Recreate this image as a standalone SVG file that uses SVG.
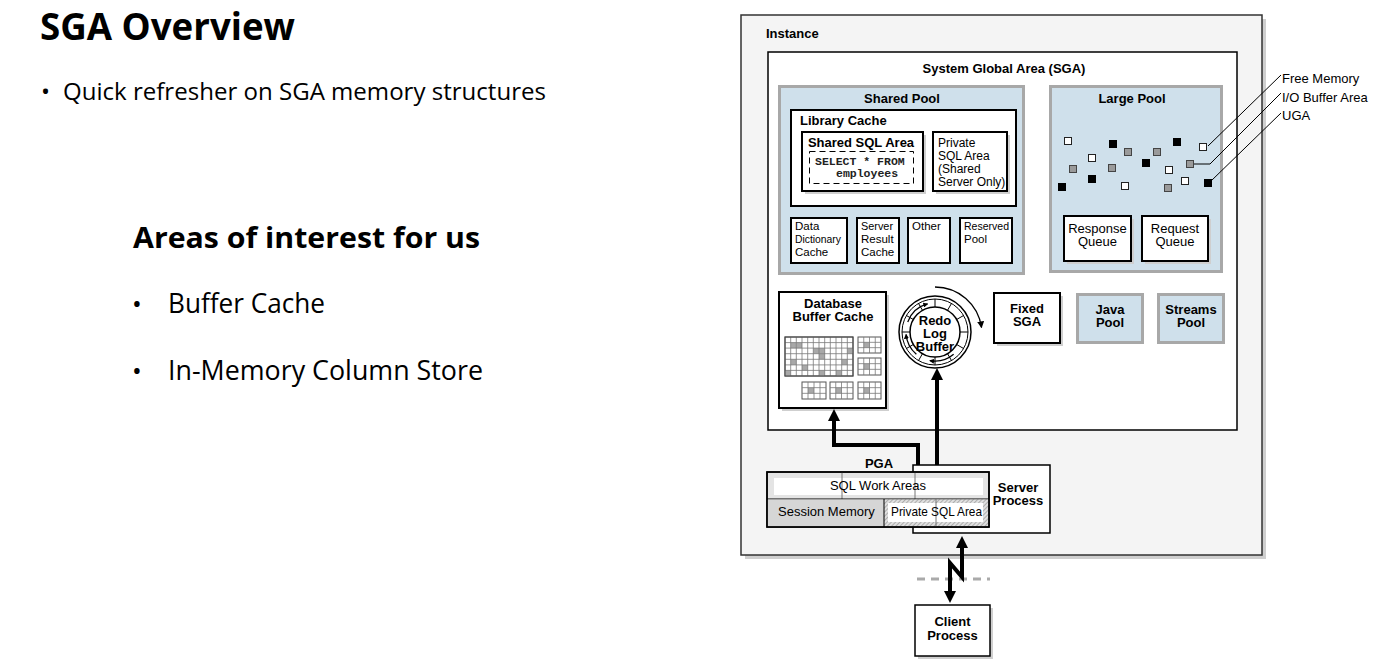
<svg xmlns="http://www.w3.org/2000/svg" width="1373" height="667" viewBox="0 0 1373 667">
<defs>
<style>
.t{font-family:"Liberation Sans",Arial,sans-serif;fill:#000}
.b{font-weight:bold;font-size:13px}
.r{font-size:12.5px}
.s{font-family:"Open Sans","Noto Sans",sans-serif;fill:#000}
.box{fill:#fff;stroke:#000;stroke-width:2}
.thin{fill:#fff;stroke:#000;stroke-width:1.5}
.pool{fill:#cfe0eb;stroke:#a8a8a8;stroke-width:3}
.sh{fill:#cfcfcf}
.ln{fill:none;stroke:#000;stroke-width:1}
.thick{fill:none;stroke:#000;stroke-width:4}
.sqw{fill:#fff;stroke:#222;stroke-width:1}
.sqb{fill:#000;stroke:#000;stroke-width:1}
.sqg{fill:#9a9a9a;stroke:#444;stroke-width:1}
.grid{fill:none;stroke:#7a7a7a;stroke-width:0.8}
.gbox{fill:#fff;stroke:#555;stroke-width:1}
.cell{fill:#a8a8a8}
.mono{font-family:"Liberation Mono","Courier New",monospace;font-size:11.5px;font-weight:bold;fill:#222}
</style>
<pattern id="hatch" width="3" height="3" patternUnits="userSpaceOnUse" patternTransform="rotate(45)">
<rect width="3" height="3" fill="#e0e0e0"/>
<line x1="0" y1="0" x2="0" y2="3" stroke="#7a7a7a" stroke-width="1"/>
</pattern>
<marker id="sa" viewBox="0 0 6 6" refX="5" refY="3" markerWidth="5" markerHeight="5" orient="auto" markerUnits="userSpaceOnUse">
<path d="M0,0 L6,3 L0,6 Z" fill="#000"/>
</marker>
<marker id="ma" viewBox="0 0 8 8" refX="7" refY="4" markerWidth="7" markerHeight="7" orient="auto" markerUnits="userSpaceOnUse">
<path d="M0,0 L8,4 L0,8 Z" fill="#000"/>
</marker>
</defs>

<!-- Left slide text -->
<g id="slide-text">
<text class="s" x="40" y="40" font-size="37" font-weight="bold" textLength="255" lengthAdjust="spacingAndGlyphs">SGA Overview</text>
<text class="s" x="41" y="100" font-size="24">•</text>
<text class="s" x="63" y="100" font-size="24" textLength="483" lengthAdjust="spacingAndGlyphs">Quick refresher on SGA memory structures</text>
<text class="s" x="133" y="248" font-size="29" font-weight="bold" textLength="347" lengthAdjust="spacingAndGlyphs">Areas of interest for us</text>
<text class="s" x="132" y="313" font-size="26">•</text>
<text class="s" x="168" y="313" font-size="27" textLength="157" lengthAdjust="spacingAndGlyphs">Buffer Cache</text>
<text class="s" x="132" y="380" font-size="26">•</text>
<text class="s" x="168" y="380" font-size="27" textLength="315" lengthAdjust="spacingAndGlyphs">In-Memory Column Store</text>
</g>

<!-- Instance -->
<g id="instance">
<rect x="745" y="19" width="521" height="540" class="sh"/>
<rect x="741" y="15" width="521" height="540" fill="#f4f4f4" stroke="#333" stroke-width="1.5"/>
<text class="t b" x="766" y="38">Instance</text>
</g>

<!-- SGA -->
<g id="sga">
<rect x="768" y="52" width="469" height="378" fill="#fff" stroke="#000" stroke-width="1.5"/>
<text class="t b" x="1004" y="73" text-anchor="middle">System Global Area (SGA)</text>
</g>

<!-- Shared Pool -->
<g id="shared-pool">
<rect x="779.5" y="86.5" width="244" height="187" class="pool"/>
<text class="t b" x="902" y="103" text-anchor="middle">Shared Pool</text>
</g>
<g id="library-cache">
<rect x="791" y="110" width="225" height="96" class="box"/>
<text class="t b" x="800" y="125">Library Cache</text>
</g>
<g id="shared-sql-area">
<rect x="805" y="135" width="121" height="59" class="sh"/>
<rect x="802" y="132" width="121" height="59" class="box"/>
<text class="t b" x="861" y="147" text-anchor="middle">Shared SQL Area</text>
<rect x="809.5" y="151.5" width="104" height="32" fill="none" stroke="#000" stroke-width="1" stroke-dasharray="6 4"/>
<text class="mono" x="815" y="165">SELECT * FROM</text>
<text class="mono" x="836" y="177">employees</text>
</g>
<g id="private-sql-area-shared">
<rect x="936" y="135" width="74" height="59" class="sh"/>
<rect x="933" y="132" width="74" height="59" class="box"/>
<text class="t" font-size="12" x="938" y="147">Private</text>
<text class="t" font-size="12" x="938" y="160">SQL Area</text>
<text class="t" font-size="12" x="938" y="173">(Shared</text>
<text class="t" font-size="12" x="938" y="186">Server Only)</text>
</g>
<g id="data-dictionary-cache">
<rect x="791" y="218" width="56" height="45" class="box"/>
<text class="t" font-size="11.5" x="795" y="230">Data</text>
<text class="t" font-size="11.5" x="795" y="243" textLength="46" lengthAdjust="spacingAndGlyphs">Dictionary</text>
<text class="t" font-size="11.5" x="795" y="256">Cache</text>
</g>
<g id="server-result-cache">
<rect x="857" y="218" width="42" height="45" class="box"/>
<text class="t" font-size="11.5" x="861" y="230" textLength="32" lengthAdjust="spacingAndGlyphs">Server</text>
<text class="t" font-size="11.5" x="861" y="243">Result</text>
<text class="t" font-size="11.5" x="861" y="256">Cache</text>
</g>
<g id="other">
<rect x="908" y="218" width="42" height="45" class="box"/>
<text class="t" font-size="11.5" x="912" y="230">Other</text>
</g>
<g id="reserved-pool">
<rect x="960" y="218" width="52" height="45" class="box"/>
<text class="t" font-size="11.5" x="964" y="230" textLength="45" lengthAdjust="spacingAndGlyphs">Reserved</text>
<text class="t" font-size="11.5" x="964" y="243">Pool</text>
</g>

<!-- Large Pool -->
<g id="large-pool">
<rect x="1050.5" y="86.5" width="171" height="185" class="pool"/>
<text class="t b" x="1132" y="103" text-anchor="middle">Large Pool</text>
<rect x="1064.5" y="137.5" width="7" height="7" class="sqw"/>
<rect x="1109.5" y="140.5" width="7" height="7" class="sqb"/>
<rect x="1173.5" y="138.5" width="7" height="7" class="sqb"/>
<rect x="1199.5" y="143.5" width="7" height="7" class="sqw"/>
<rect x="1124.5" y="148.5" width="7" height="7" class="sqg"/>
<rect x="1153.5" y="148.5" width="7" height="7" class="sqg"/>
<rect x="1088.5" y="154.5" width="7" height="7" class="sqw"/>
<rect x="1142.5" y="159.5" width="7" height="7" class="sqb"/>
<rect x="1186.5" y="160.5" width="7" height="7" class="sqg"/>
<rect x="1069.5" y="165.5" width="7" height="7" class="sqg"/>
<rect x="1108.5" y="164.5" width="7" height="7" class="sqg"/>
<rect x="1165.5" y="166.5" width="7" height="7" class="sqw"/>
<rect x="1088.5" y="175.5" width="7" height="7" class="sqb"/>
<rect x="1181.5" y="177.5" width="7" height="7" class="sqw"/>
<rect x="1204.5" y="179.5" width="7" height="7" class="sqb"/>
<rect x="1058.5" y="183.5" width="7" height="7" class="sqb"/>
<rect x="1121.5" y="182.5" width="7" height="7" class="sqw"/>
<rect x="1164.5" y="184.5" width="7" height="7" class="sqg"/>
</g>
<g id="response-queue">
<rect x="1067" y="219" width="67" height="45" class="sh"/>
<rect x="1064" y="216" width="67" height="45" class="box"/>
<text class="t" font-size="13" x="1097.5" y="233" text-anchor="middle">Response</text>
<text class="t" font-size="13" x="1097.5" y="246" text-anchor="middle">Queue</text>
</g>
<g id="request-queue">
<rect x="1145" y="219" width="66" height="45" class="sh"/>
<rect x="1142" y="216" width="66" height="45" class="box"/>
<text class="t" font-size="13" x="1175" y="233" text-anchor="middle">Request</text>
<text class="t" font-size="13" x="1175" y="246" text-anchor="middle">Queue</text>
</g>

<!-- Legend labels -->
<g id="legend">
<text class="t" x="1282" y="83" font-size="13">Free Memory</text>
<text class="t" x="1282" y="102" font-size="13">I/O Buffer Area</text>
<text class="t" x="1282" y="120" font-size="13">UGA</text>
</g>

<!-- Database Buffer Cache -->
<g id="database-buffer-cache">
<rect x="782" y="295" width="107" height="116" class="sh"/>
<rect x="779" y="292" width="107" height="116" class="box"/>
<text class="t b" x="833" y="308" text-anchor="middle">Database</text>
<text class="t b" x="833" y="321" text-anchor="middle">Buffer Cache</text>
<rect x="785" y="337" width="68" height="39" class="gbox"/>
<rect x="790.7" y="342.6" width="5.7" height="5.6" class="cell"/>
<rect x="796.3" y="342.6" width="5.7" height="5.6" class="cell"/>
<rect x="813.3" y="348.1" width="5.7" height="5.6" class="cell"/>
<rect x="819" y="348.1" width="5.7" height="5.6" class="cell"/>
<rect x="819" y="353.7" width="5.7" height="5.6" class="cell"/>
<rect x="847.3" y="348.1" width="5.7" height="5.6" class="cell"/>
<rect x="790.7" y="359.3" width="5.7" height="5.6" class="cell"/>
<rect x="802" y="364.9" width="5.7" height="5.6" class="cell"/>
<rect x="841.7" y="359.3" width="5.7" height="5.6" class="cell"/>
<rect x="785" y="370.4" width="5.7" height="5.6" class="cell"/>
<rect x="819" y="370.4" width="5.7" height="5.6" class="cell"/>
<rect x="836" y="370.4" width="5.7" height="5.6" class="cell"/>
<path class="grid" d="M790.7,337V376M796.3,337V376M802,337V376M807.7,337V376M813.3,337V376M819,337V376M824.7,337V376M830.3,337V376M836,337V376M841.7,337V376M847.3,337V376M785,342.6H853M785,348.1H853M785,353.7H853M785,359.3H853M785,364.9H853M785,370.4H853"/>
<rect x="785" y="337" width="68" height="39" fill="none" stroke="#444" stroke-width="1"/>
<g id="small-grids">
<rect x="858" y="337" width="23" height="16" class="gbox"/>
<rect x="863.75" y="342.33" width="5.75" height="5.33" class="cell"/>
<path class="grid" d="M863.75,337V353M869.5,337V353M875.25,337V353M858,342.33H881M858,347.67H881"/>
<rect x="858" y="358" width="23" height="17" class="gbox"/>
<rect x="863.75" y="363.67" width="5.75" height="5.67" class="cell"/>
<path class="grid" d="M863.75,358V375M869.5,358V375M875.25,358V375M858,363.67H881M858,369.33H881"/>
<rect x="802" y="382" width="24" height="17" class="gbox"/>
<rect x="808" y="387.67" width="6" height="5.67" class="cell"/>
<path class="grid" d="M808,382V399M814,382V399M820,382V399M802,387.67H826M802,393.33H826"/>
<rect x="830" y="382" width="23" height="17" class="gbox"/>
<rect x="835.75" y="387.67" width="5.75" height="5.67" class="cell"/>
<path class="grid" d="M835.75,382V399M841.5,382V399M847.25,382V399M830,387.67H853M830,393.33H853"/>
<rect x="858" y="382" width="23" height="17" class="gbox"/>
<rect x="863.75" y="387.67" width="5.75" height="5.67" class="cell"/>
<path class="grid" d="M863.75,382V399M869.5,382V399M875.25,382V399M858,387.67H881M858,393.33H881"/>
</g>
</g>

<!-- Redo Log Buffer -->
<g id="redo-log-buffer" transform="translate(1,0)">
<circle cx="934" cy="332" r="36" fill="#fff" stroke="#000" stroke-width="1.5"/>
<circle cx="934" cy="332" r="33" fill="none" stroke="#000" stroke-width="1"/>
<path class="ln" d="M959,332L967,332M955.65,344.5L962.58,348.5M946.5,353.65L950.5,360.58M934,357L934,365M921.5,353.65L917.5,360.58M912.35,344.5L905.42,348.5M909,332L901,332M912.35,319.5L905.42,315.5M921.5,310.35L917.5,303.42M934,307L934,299M946.5,310.35L950.5,303.42M955.65,319.5L962.58,315.5"/>
<circle cx="934" cy="332" r="25" fill="#fff" stroke="#000" stroke-width="1.5"/>
<path d="M906.75,322.08A29,29 0 0 1 926.49,303.99" fill="none" stroke="#000" stroke-width="1.3" marker-end="url(#sa)"/>
<path d="M915.36,354.21A29,29 0 0 1 905.11,334.53" fill="none" stroke="#000" stroke-width="1.3" marker-end="url(#sa)"/>
<path d="M952.64,354.21A29,29 0 0 1 928.96,360.56" fill="none" stroke="#000" stroke-width="1.3" marker-end="url(#sa)"/>
<path d="M934,287A47,47 0 0 1 980.5,327.5" fill="none" stroke="#000" stroke-width="1.3" marker-end="url(#ma)"/>
<text class="t b" x="934" y="325" text-anchor="middle">Redo</text>
<text class="t b" x="934" y="338" text-anchor="middle">Log</text>
<text class="t b" x="934" y="351" text-anchor="middle">Buffer</text>
</g>

<!-- Fixed SGA, Java Pool, Streams Pool -->
<g id="fixed-sga">
<rect x="997" y="296" width="66" height="50" class="sh"/>
<rect x="994" y="293" width="66" height="50" class="box"/>
<text class="t b" x="1027" y="313" text-anchor="middle">Fixed</text>
<text class="t b" x="1027" y="326" text-anchor="middle">SGA</text>
</g>
<g id="java-pool">
<rect x="1077.5" y="294.5" width="65" height="48" class="pool"/>
<text class="t b" x="1110" y="314" text-anchor="middle">Java</text>
<text class="t b" x="1110" y="327" text-anchor="middle">Pool</text>
</g>
<g id="streams-pool">
<rect x="1158.5" y="294.5" width="65" height="48" class="pool"/>
<text class="t b" x="1191" y="314" text-anchor="middle">Streams</text>
<text class="t b" x="1191" y="327" text-anchor="middle">Pool</text>
</g>

<!-- Server Process and PGA -->
<g id="server-process">
<rect x="913" y="465" width="137" height="68" class="thin"/>
<text class="t b" x="1018" y="492" text-anchor="middle">Server</text>
<text class="t b" x="1018" y="505" text-anchor="middle">Process</text>
</g>
<g id="pga">
<text class="t b" x="879" y="468" text-anchor="middle">PGA</text>
<rect x="767" y="472" width="222" height="55" fill="#e4e4e4" stroke="#000" stroke-width="1.5"/>
<rect x="774" y="478" width="209" height="17" fill="#fff"/>
<line x1="842" y1="472" x2="842" y2="499" stroke="#777" stroke-width="1"/>
<line x1="915" y1="472" x2="915" y2="499" stroke="#777" stroke-width="1"/>
<text class="t" font-size="13" x="878" y="490" text-anchor="middle">SQL Work Areas</text>
<line x1="767" y1="499" x2="989" y2="499" stroke="#000" stroke-width="1"/>
<rect x="767.75" y="499.5" width="116.25" height="26.75" fill="#d6d6d6"/>
<rect x="884" y="499.5" width="104.25" height="26.75" fill="url(#hatch)"/>
<rect x="888" y="503" width="95" height="19" fill="#fff"/>
<line x1="884" y1="499" x2="884" y2="527" stroke="#000" stroke-width="1"/>
<line x1="936" y1="499" x2="936" y2="527" stroke="#777" stroke-width="1"/>
<text class="t" font-size="13" x="778" y="516">Session Memory</text>
<text class="t" font-size="13" x="891" y="516" textLength="91" lengthAdjust="spacingAndGlyphs">Private SQL Area</text>
<rect x="767" y="472" width="222" height="55" fill="none" stroke="#000" stroke-width="1.5"/>
</g>

<!-- Client Process -->
<g id="client-process">
<rect x="918" y="608" width="75" height="51" class="sh"/>
<rect x="915" y="605" width="75" height="51" class="thin"/>
<text class="t b" x="952.5" y="626" text-anchor="middle">Client</text>
<text class="t b" x="952.5" y="640" text-anchor="middle">Process</text>
</g>

<!-- Connectors -->
<g id="connectors">
<path d="M1208,146L1281,75" class="ln"/>
<path d="M1194,164H1210L1281,93" class="ln"/>
<path d="M1211,181L1281,113" class="ln"/>
<path class="thick" d="M918,465V445H834V420"/>
<polygon points="834,409 828,421 840,421" fill="#000"/>
<path class="thick" d="M937,465V379"/>
<polygon points="937,368 931,380 943,380" fill="#000"/>
<line x1="917" y1="579" x2="990" y2="579" stroke="#aaa" stroke-width="3" stroke-dasharray="8 6"/>
<path class="thick" d="M962,547V577L950,563V592" stroke-linejoin="miter"/>
<polygon points="962,536 956,548 968,548" fill="#000"/>
<polygon points="950,603 944,591 956,591" fill="#000"/>
</g>
</svg>
